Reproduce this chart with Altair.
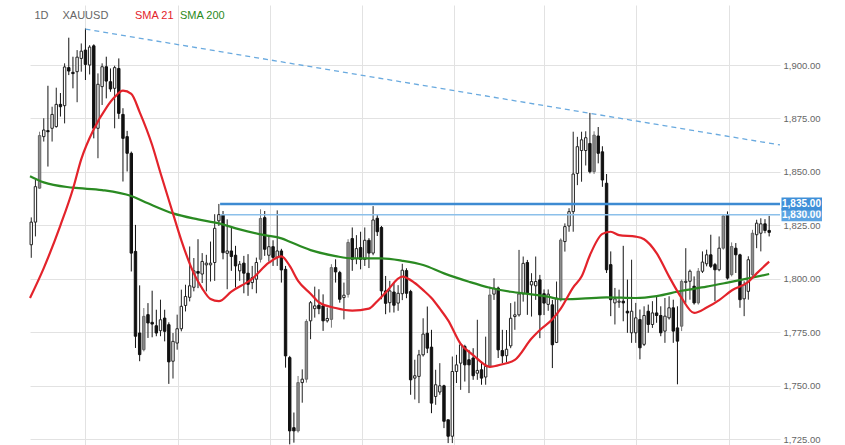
import altair as alt
import pandas as pd

# ---------------- data ----------------
open_ = [1815.9, 1826.5, 1842.4, 1866.5, 1869.3, 1870.4, 1871.2, 1881.6, 1881.0, 1898.8,
         1896.6, 1896.9, 1903.1, 1907.0, 1900.0, 1909.0, 1870.4, 1889.9, 1899.2, 1892.2,
         1889.1, 1898.4, 1876.9, 1866.5, 1858.7, 1812.8, 1774.6, 1766.8, 1783.2, 1779.6,
         1778.0, 1775.7, 1781.6, 1778.5, 1761.4, 1769.9, 1776.6, 1787.5, 1791.3, 1796.0,
         1803.4, 1802.2, 1806.5, 1806.5, 1807.6, 1827.1, 1830.0, 1811.9, 1813.0, 1811.0,
         1803.7, 1807.3, 1802.6, 1798.2, 1799.8, 1809.1, 1828.6, 1811.0, 1815.0, 1810.0,
         1813.0, 1804.4, 1763.1, 1730.3, 1728.8, 1751.4, 1753.0, 1780.3, 1786.0, 1787.6,
         1787.3, 1780.3, 1781.0, 1805.2, 1802.9, 1791.2, 1792.7, 1818.8, 1809.4, 1814.6,
         1809.0, 1818.0, 1812.0, 1828.3, 1824.0, 1794.3, 1788.8, 1793.8, 1788.6, 1793.0,
         1803.8, 1794.0, 1753.5, 1754.3, 1764.4, 1774.5, 1768.0, 1744.9, 1747.0, 1749.9,
         1734.0, 1726.3, 1756.6, 1760.5, 1768.3, 1762.1, 1762.9, 1755.8, 1757.4, 1754.0,
         1759.0, 1792.8, 1795.6, 1766.4, 1764.0, 1768.6, 1782.3, 1783.1, 1792.9, 1807.6,
         1797.1, 1796.7, 1799.5, 1793.0, 1788.0, 1787.8, 1770.2, 1790.1, 1817.4, 1824.7,
         1831.4, 1849.3, 1860.0, 1860.0, 1863.3, 1850.1, 1866.8, 1859.4, 1844.7, 1806.6,
         1788.7, 1789.0, 1789.5, 1784.8, 1774.7, 1774.7, 1780.9, 1769.3, 1784.8, 1778.6,
         1784.0, 1782.8, 1775.5, 1781.7, 1786.4, 1777.0, 1777.8, 1798.3, 1798.8, 1796.5,
         1788.7, 1803.5, 1807.0, 1811.2, 1806.6, 1804.2, 1814.3, 1829.9, 1801.9, 1814.3,
         1811.2, 1790.6, 1794.1, 1801.9, 1820.6, 1821.3, 1825.7, 1822.6]

high = [1828.7, 1846.3, 1868.8, 1875.1, 1890.3, 1880.5, 1889.4, 1886.9, 1900.8, 1912.8,
        1903.9, 1907.0, 1910.1, 1917.1, 1909.3, 1909.7, 1896.1, 1900.8, 1903.9, 1898.4,
        1899.7, 1903.1, 1879.8, 1869.2, 1859.5, 1825.2, 1796.9, 1786.3, 1788.6, 1794.4,
        1785.5, 1790.2, 1785.5, 1779.6, 1774.6, 1783.2, 1794.9, 1797.2, 1815.1, 1809.7,
        1818.5, 1812.0, 1811.2, 1817.4, 1830.2, 1835.0, 1831.7, 1827.8, 1824.0, 1815.4,
        1808.3, 1810.7, 1811.5, 1806.0, 1809.9, 1832.5, 1831.7, 1820.0, 1818.0, 1832.0,
        1814.0, 1806.0, 1763.9, 1737.4, 1754.5, 1757.6, 1781.0, 1789.6, 1796.3, 1795.1,
        1792.7, 1786.5, 1806.8, 1809.1, 1803.7, 1798.2, 1818.5, 1824.0, 1820.4, 1822.0,
        1824.0, 1819.0, 1834.0, 1830.0, 1824.7, 1801.3, 1799.0, 1798.2, 1797.0, 1807.0,
        1804.9, 1794.8, 1762.1, 1766.7, 1781.5, 1787.0, 1776.1, 1757.4, 1760.5, 1750.4,
        1734.0, 1763.6, 1764.4, 1769.9, 1769.1, 1766.7, 1767.5, 1780.8, 1761.3, 1772.9,
        1796.3, 1800.2, 1796.3, 1776.1, 1776.0, 1788.6, 1789.3, 1813.5, 1810.4, 1808.8,
        1802.6, 1810.4, 1801.8, 1795.0, 1795.0, 1790.1, 1798.7, 1818.9, 1825.9, 1833.0,
        1868.8, 1866.4, 1868.8, 1869.0, 1877.6, 1869.0, 1871.0, 1862.0, 1849.0, 1812.8,
        1795.7, 1794.9, 1815.4, 1799.6, 1808.9, 1788.7, 1785.6, 1787.1, 1787.9, 1789.5,
        1791.8, 1787.1, 1791.0, 1791.8, 1790.2, 1787.1, 1799.6, 1814.3, 1804.3, 1801.1,
        1805.0, 1812.8, 1813.6, 1820.6, 1807.4, 1819.8, 1829.9, 1831.5, 1817.0, 1816.7,
        1811.7, 1798.8, 1810.5, 1822.9, 1827.6, 1828.3, 1827.9, 1829.4]

low = [1809.8, 1819.8, 1842.1, 1864.2, 1852.5, 1864.2, 1870.7, 1875.9, 1872.7, 1895.3,
       1889.1, 1882.6, 1896.9, 1893.0, 1895.6, 1865.7, 1856.4, 1881.3, 1884.4, 1887.5,
       1870.4, 1874.8, 1845.5, 1850.2, 1803.4, 1767.6, 1761.4, 1766.0, 1772.3, 1772.6,
       1773.1, 1773.1, 1770.7, 1750.8, 1753.3, 1766.8, 1775.4, 1784.7, 1789.4, 1794.1,
       1795.6, 1798.0, 1794.1, 1798.7, 1799.0, 1824.7, 1809.1, 1795.1, 1803.7, 1795.9,
       1799.0, 1793.2, 1792.0, 1795.1, 1793.2, 1807.6, 1810.7, 1808.0, 1806.0, 1806.0,
       1798.2, 1758.4, 1722.5, 1723.3, 1728.0, 1742.0, 1751.4, 1771.7, 1781.8, 1783.4,
       1775.6, 1779.5, 1777.1, 1798.2, 1788.8, 1781.0, 1791.2, 1803.7, 1806.8, 1804.4,
       1806.0, 1805.0, 1811.0, 1820.0, 1790.4, 1783.4, 1784.2, 1784.2, 1785.0, 1790.0,
       1790.9, 1745.7, 1743.5, 1741.8, 1763.6, 1765.2, 1737.1, 1741.0, 1745.7, 1730.1,
       1723.1, 1723.1, 1751.2, 1748.0, 1751.9, 1746.5, 1752.7, 1752.7, 1750.4, 1750.4,
       1758.2, 1790.1, 1762.9, 1760.5, 1761.0, 1767.5, 1776.1, 1782.3, 1789.3, 1783.1,
       1782.3, 1790.1, 1772.2, 1783.0, 1785.0, 1758.2, 1769.9, 1789.3, 1812.7, 1822.0,
       1822.0, 1843.8, 1845.4, 1853.0, 1849.3, 1849.0, 1854.0, 1843.0, 1802.7, 1782.5,
       1778.6, 1786.4, 1780.1, 1774.7, 1770.0, 1770.0, 1762.3, 1768.5, 1774.7, 1777.0,
       1779.4, 1773.1, 1770.0, 1780.9, 1770.0, 1750.6, 1775.5, 1788.7, 1790.2, 1787.9,
       1787.9, 1802.7, 1805.8, 1805.0, 1789.5, 1803.5, 1813.6, 1799.6, 1801.1, 1802.7,
       1786.4, 1782.5, 1790.2, 1801.1, 1814.3, 1812.8, 1821.3, 1819.8]

close = [1826.5, 1843.1, 1867.0, 1869.6, 1868.8, 1876.9, 1881.6, 1880.5, 1899.1, 1897.2,
         1896.0, 1903.7, 1906.5, 1900.3, 1908.4, 1870.4, 1891.0, 1899.2, 1892.5, 1888.8,
         1898.8, 1877.4, 1865.7, 1858.7, 1812.0, 1773.1, 1764.5, 1782.4, 1779.3, 1778.8,
         1774.6, 1780.8, 1775.4, 1761.1, 1770.7, 1776.6, 1787.1, 1791.7, 1796.7, 1803.7,
         1802.6, 1808.1, 1807.3, 1807.3, 1823.6, 1830.0, 1812.2, 1813.0, 1810.4, 1806.0,
         1806.8, 1802.6, 1797.4, 1800.5, 1807.6, 1828.2, 1813.8, 1815.0, 1810.0, 1813.0,
         1804.1, 1763.9, 1728.8, 1728.8, 1751.4, 1753.0, 1780.0, 1788.8, 1787.3, 1786.0,
         1780.3, 1781.4, 1805.2, 1803.2, 1790.4, 1792.3, 1817.0, 1809.1, 1814.1, 1809.1,
         1818.0, 1812.0, 1827.5, 1822.0, 1794.3, 1788.5, 1794.3, 1787.6, 1793.2, 1804.0,
         1793.2, 1752.7, 1754.6, 1764.4, 1774.1, 1767.5, 1741.8, 1750.4, 1749.9, 1733.3,
         1726.3, 1756.6, 1759.7, 1769.1, 1759.7, 1759.7, 1754.6, 1757.1, 1753.5, 1759.0,
         1792.4, 1795.6, 1766.7, 1763.9, 1767.0, 1781.5, 1783.1, 1792.9, 1807.2, 1793.2,
         1798.7, 1798.7, 1783.1, 1788.6, 1792.8, 1769.1, 1790.9, 1818.1, 1824.4, 1831.4,
         1849.0, 1861.8, 1865.0, 1866.0, 1850.1, 1867.2, 1858.7, 1846.2, 1804.2, 1790.2,
         1790.6, 1789.5, 1788.7, 1784.0, 1784.8, 1781.7, 1767.7, 1782.8, 1778.6, 1784.0,
         1782.8, 1774.7, 1782.5, 1786.4, 1775.5, 1770.8, 1798.8, 1798.8, 1803.5, 1788.7,
         1803.5, 1807.8, 1811.2, 1805.8, 1804.2, 1814.3, 1829.4, 1800.3, 1815.1, 1811.2,
         1790.2, 1797.2, 1808.9, 1821.3, 1826.0, 1825.7, 1822.6, 1821.7]

sma21_idx = [-0.3, 3, 7, 10, 12, 15, 18, 20, 22, 24, 26, 29, 31, 34, 36, 39, 41, 43, 45, 48,
             53, 57, 60, 62, 64, 67, 69, 73, 77, 81, 83, 85, 89, 92, 94, 96, 98, 100, 103,
             106, 110, 113, 116, 120, 122, 125, 127, 130, 132, 134, 137, 139, 141, 145,
             147, 150, 153, 156, 159, 162, 165, 168, 172, 174, 177]
sma21_val = [1791, 1805, 1825, 1842, 1856, 1870, 1880, 1885, 1888, 1886.5, 1878, 1862.6,
             1849.5, 1830.5, 1818, 1802.5, 1795.5, 1790.5, 1789.5, 1794, 1800, 1807.5,
             1810.5, 1806, 1799, 1793, 1789, 1786.3, 1785.1, 1786, 1789.5, 1793.5, 1801,
             1798, 1794.7, 1791, 1786, 1780.5, 1769.5, 1764.3, 1758.8, 1760, 1762, 1772,
             1776, 1781, 1786, 1796, 1801, 1811, 1821, 1822, 1820.4, 1819.7, 1818.5, 1812,
             1801, 1791, 1784, 1786.5, 1790, 1794.5, 1798.5, 1802.5, 1808]

sma200_idx = [-0.3, 3, 10, 17, 24, 28, 34, 40, 45, 50, 56, 60, 62, 67, 73, 77, 84, 89, 94,
              99, 105, 110, 115, 120, 124, 127, 132, 138, 145, 150, 156, 162, 167, 172, 177]
sma200_val = [1848.0, 1845.1, 1842.6, 1841.5, 1838.7, 1835.3, 1830.6, 1827.8, 1825.9,
              1823.1, 1820.4, 1818.9, 1817.3, 1813.4, 1810.6, 1809.5, 1809.5, 1808.4,
              1806.4, 1802.5, 1798.6, 1795.8, 1793.9, 1792.7, 1791.6, 1790.4, 1790.7,
              1791.3, 1791.0, 1791.9, 1794.4, 1796.3, 1798.2, 1800.2, 1802.2]

trend_idx = [13, 179.6]
trend_price = [1916.8, 1862.6]

level_price = [1830, 1835]
level_start = [45.3, 45.3]
level_end = [179.6, 179.6]
level_label = ["1,830.00", "1,835.00"]

grid_idx = [12.9, 35.2, 57.3, 79.3, 101.5, 122.9, 145.0, 167.4]
price_ticks = [1725, 1750, 1775, 1800, 1825, 1850, 1875, 1900]

header_text = ["1D", "XAUUSD", "SMA 21", "SMA 200"]

# ---------------- tables ----------------
n = len(close)
shade = []
for k in range(n):
    o, c, h, l = open_[k], close[k], high[k], low[k]
    if c < o:
        shade.append("down")
    elif (c - o) >= 0.75 * (h - l):
        shade.append("strong")
    else:
        shade.append("up")

candles = pd.DataFrame({"i": list(range(n)), "o": open_, "h": high, "l": low,
                        "c": close, "shade": shade})
sma21 = pd.DataFrame({"i": sma21_idx, "v": sma21_val})
sma200 = pd.DataFrame({"i": sma200_idx, "v": sma200_val})
trend = pd.DataFrame({"i": trend_idx, "v": trend_price})
levels = pd.DataFrame({"x1": level_start, "x2": level_end, "p": level_price,
                       "lbl": level_label})
levels["top"] = levels["p"] + 3.05
levels["bot"] = levels["p"] - 3.05

FONT = "Liberation Sans"
xscale = alt.Scale(domain=[-0.3, 179.6], nice=False, zero=False, padding=0)
yscale = alt.Scale(domain=[1722.2, 1928.1], nice=False, zero=False, padding=0)
xaxis = alt.Axis(values=grid_idx, labels=False, ticks=False, domain=False, grid=True,
                 title=None, gridColor="#e2e2e2")
yaxis = alt.Axis(values=price_ticks, orient="right", format=",.2f", ticks=False,
                 domain=False, grid=True, title=None, gridColor="#e2e2e2",
                 labelColor="#666666", labelFontSize=9.5, labelFont=FONT,
                 labelPadding=3)


def X(field):
    return alt.X(field, type="quantitative", scale=xscale, axis=xaxis)


def Y(field):
    return alt.Y(field, type="quantitative", scale=yscale, axis=yaxis)


shade_dom = ["down", "up", "strong"]
wicks = alt.Chart(candles).mark_rule(strokeWidth=1).encode(
    x=X("i"), y=Y("l"), y2="h:Q",
    color=alt.Color("shade:N", scale=alt.Scale(domain=shade_dom,
                    range=["#111111", "#222222", "#777777"]), legend=None))

bodies = alt.Chart(candles).mark_bar(size=2.4, strokeWidth=1).encode(
    x=X("i"), y=Y("o"), y2="c:Q",
    fill=alt.Fill("shade:N", scale=alt.Scale(domain=shade_dom,
                  range=["#111111", "#ffffff", "#8c8c8c"]), legend=None),
    stroke=alt.Stroke("shade:N", scale=alt.Scale(domain=shade_dom,
                      range=["#111111", "#222222", "#666666"]), legend=None))

line200 = alt.Chart(sma200).mark_line(color="#2a8a22", strokeWidth=2.2,
                                      interpolate="monotone").encode(x=X("i"), y=Y("v"))
line21 = alt.Chart(sma21).mark_line(color="#e3232b", strokeWidth=2.2,
                                    interpolate="monotone").encode(x=X("i"), y=Y("v"))

trendline = alt.Chart(trend).mark_line(color="#6aaadf", strokeWidth=1.3,
                                       strokeDash=[5, 4]).encode(x=X("i"), y=Y("v"))

lev = alt.Chart(levels)
rule_1830 = lev.transform_filter(alt.datum.p == 1830).mark_rule(
    color="#8cc0ea", strokeWidth=1.5).encode(x=X("x1"), x2="x2:Q", y=Y("p"))
rule_1835 = lev.transform_filter(alt.datum.p == 1835).mark_rule(
    color="#3d8bd2", strokeWidth=2.5).encode(x=X("x1"), x2="x2:Q", y=Y("p"))
box_1830 = lev.transform_filter(alt.datum.p == 1830).mark_rect(color="#5aa3e2").encode(
    x=alt.value(751.5), x2=alt.value(792), y=Y("top"), y2="bot:Q")
box_1835 = lev.transform_filter(alt.datum.p == 1835).mark_rect(color="#3f8fd8").encode(
    x=alt.value(751.5), x2=alt.value(792), y=Y("top"), y2="bot:Q")


def label_layer(p):
    return lev.transform_filter(alt.datum.p == p).mark_text(
        align="center", baseline="middle", color="white", fontSize=10,
        fontWeight="bold", font=FONT).encode(x=alt.value(771.5), y=Y("p"), text="lbl:N")


header_colors = ["#666666", "#666666", "#e3232b", "#2a8a22"]
header_x = [4.5, 32.5, 105, 150]
headers = []
for t, col, hx in zip(header_text, header_colors, header_x):
    headers.append(
        alt.Chart(pd.DataFrame({"t": [t]})).mark_text(
            align="left", baseline="middle", fontSize=11, font=FONT, color=col
        ).encode(x=alt.value(hx), y=alt.value(10.5), text="t:N"))

chart = alt.layer(
    wicks, bodies, line200, line21, trendline,
    rule_1830, rule_1835, box_1830, label_layer(1830), box_1835, label_layer(1835),
    *headers
).properties(
    width=750, height=440,
    autosize=alt.AutoSizeParams(type="none"),
    padding={"left": 30, "top": 5, "right": 65, "bottom": 0},
    background="white",
).configure_view(strokeWidth=0)

chart.save("out.html", embed_options={"renderer": "svg", "actions": False})
